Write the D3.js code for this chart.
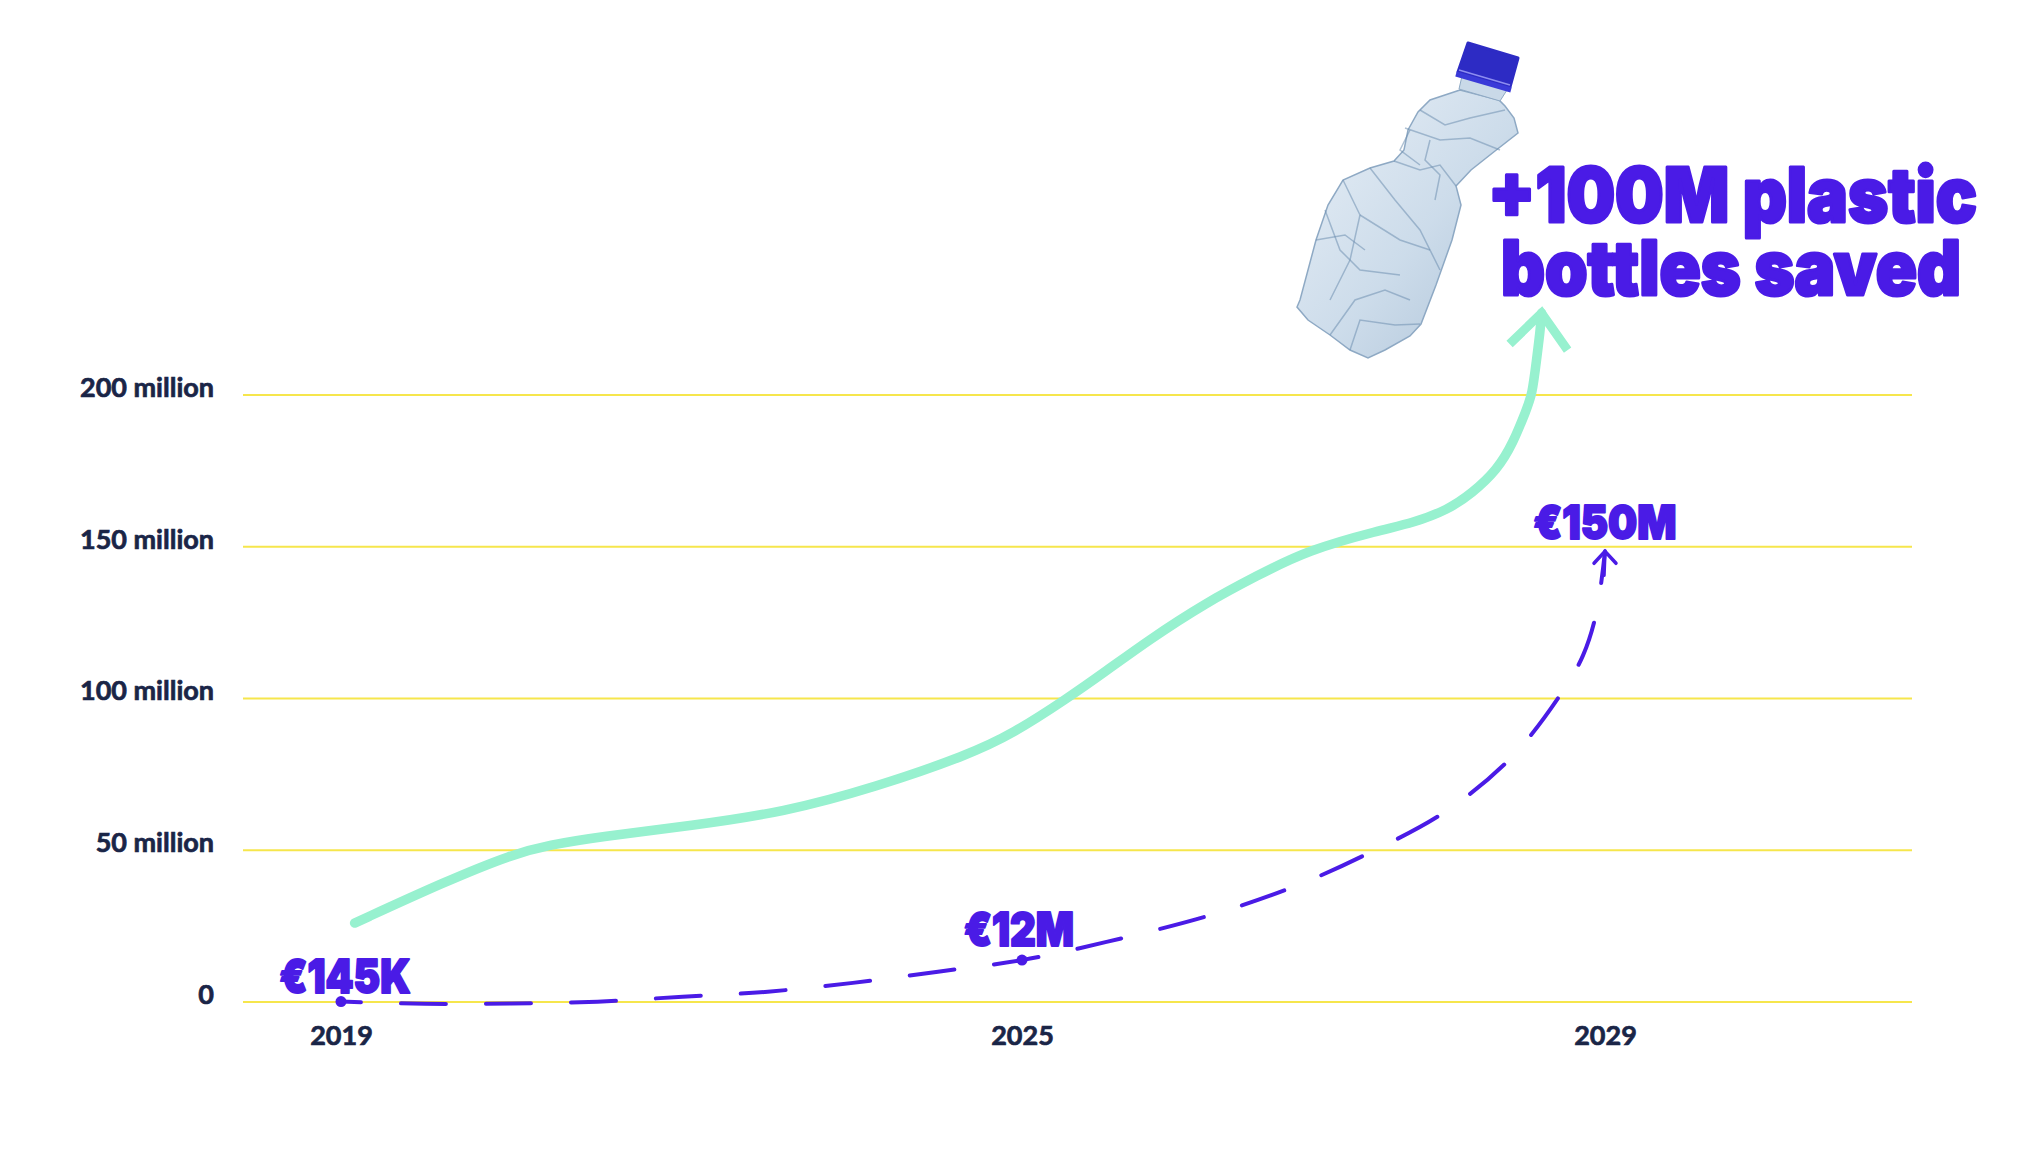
<!DOCTYPE html>
<html>
<head>
<meta charset="utf-8">
<script src="https://cdn.jsdelivr.net/npm/d3@7"></script>
<style>
  html, body { margin: 0; padding: 0; background: #ffffff; }
  svg { display: block; }
  .tick text { font-family: Lato, "Noto Sans", sans-serif; }
</style>
</head>
<body>
<div id="chart"></div>
<script>
// Axis ticks
const yearTicks = [2019, 2025, 2029];
const valueTicks = [0, 50, 100, 150, 200];
const valueTickLabels = ['0', '50 million', '100 million', '150 million', '200 million'];

// Plastic bottles saved (millions)
const bottleYears = [2019.12, 2019.93, 2020.52, 2020.83, 2021.28, 2022.09, 2022.9, 2023.71, 2024.52, 2024.92,
  2025.31, 2025.57, 2025.87, 2026.26, 2026.61, 2026.96, 2027.46, 2027.68, 2027.92, 2028.09,
  2028.26, 2028.37, 2028.46, 2028.5, 2028.53, 2028.555, 2028.565];
const bottleValues = [26.0, 39.9, 48.8, 51.7, 54.5, 58.1, 62.5, 70.8, 81.3, 88.4,
  100.0, 108.8, 119.3, 131.5, 140.4, 148.9, 155.5, 157.8, 162.1, 167.7,
  175.3, 184.2, 195.1, 200.0, 211.5, 221.0, 227.0];

// Funding curve (million €)
const fundYears = [2019, 2019.74, 2020.5, 2021.26, 2022.01, 2022.76, 2023.51, 2024.26, 2025, 2025.58,
  2026.3, 2026.86, 2027.38, 2027.91, 2028.36, 2028.71, 2028.85, 2028.94, 2029];
const fundValues = [0.145, -0.6, -0.5, 0.1, 1.75, 3.4, 6.3, 10.0, 13.8, 19.8,
  28.7, 37.9, 49.1, 62.9, 80.7, 102.4, 114.3, 128.1, 148.5];

// Funding milestones
const milestoneYears = [2019, 2025, 2029];
const milestoneValues = [0.145, 13.8, 148.5];
const milestoneLabels = ['€145K', '€12M', '€150M'];

const headline = ['+100M plastic', 'bottles saved'];

const width = 2042, height = 1153;
const purple = '#4a1be6', mint = '#97f1cf', navy = '#1a2547', gridYellow = '#f6e64c';
const heavyFont = 'Inter, Roboto, Lato, "Noto Sans", sans-serif';

const svg = d3.select('#chart')
  .append('svg')
    .attr('width', width)
    .attr('height', height);

// x axis is not evenly spaced in the original, so use a piecewise scale
const x = d3.scaleLinear()
  .domain(yearTicks)
  .range([341, 1022, 1605]);

const y = d3.scaleLinear()
  .domain([0, 200])
  .range([1002, 395]);

// Gridlines
svg.append('g')
  .selectAll('line')
  .data(valueTicks)
  .enter()
  .append('line')
    .attr('x1', 243)
    .attr('x2', 1912)
    .attr('y1', d => y(d))
    .attr('y2', d => y(d))
    .attr('stroke', gridYellow)
    .attr('stroke-width', 2);

// Y axis labels
const yAxis = svg.append('g')
  .attr('transform', 'translate(243,0)')
  .call(d3.axisLeft(y).tickValues(valueTicks).tickSize(0).tickPadding(29)
    .tickFormat((d, i) => valueTickLabels[i]));
yAxis.select('.domain').remove();
yAxis.selectAll('text')
  .attr('dy', '0.05em')
  .attr('fill', navy)
  .attr('stroke', navy)
  .attr('stroke-width', 0.7)
  .style('font-size', '27px')
  .style('font-weight', 700);

// X axis labels
const xAxis = svg.append('g')
  .attr('transform', 'translate(0,' + y(0) + ')')
  .call(d3.axisBottom(x).tickValues(yearTicks).tickSize(0).tickFormat(d3.format('d')));
xAxis.select('.domain').remove();
xAxis.selectAll('text')
  .attr('y', 43)
  .attr('dy', 0)
  .attr('fill', navy)
  .attr('stroke', navy)
  .attr('stroke-width', 0.7)
  .style('font-size', '27px')
  .style('font-weight', 700);

// Bottle illustration (decoration)
const defs = svg.append('defs');
const grad = defs.append('linearGradient')
  .attr('id', 'bottleGrad')
  .attr('x1', '0').attr('y1', '0').attr('x2', '1').attr('y2', '1');
grad.append('stop').attr('offset', '0%').attr('stop-color', '#e6eef6');
grad.append('stop').attr('offset', '55%').attr('stop-color', '#c7d8e8');
grad.append('stop').attr('offset', '100%').attr('stop-color', '#a4bcd3');

const bottle = svg.append('g').attr('class', 'bottle');
bottle.append('path')
  .attr('d', 'M1460,90 L1430,100 L1418,112 L1408,130 L1404,150 L1394,161 L1370,168 L1343,180 L1328,205 L1316,240 ' +
    'L1300,300 L1297,307 L1308,320 L1330,335 L1350,350 L1368,358 L1385,350 L1410,336 L1421,324 L1436,285 L1452,240 ' +
    'L1461,205 L1456,186 L1471,170 L1495,151 L1518,133 L1514,118 L1505,106 L1499,100 Z')
  .attr('fill', 'url(#bottleGrad)')
  .attr('fill-opacity', 0.9)
  .attr('stroke', '#8ea9c4')
  .attr('stroke-width', 1.5);
// creases
const creases = [
  'M1405,128 L1440,140 L1470,138 L1500,150',
  'M1420,110 L1445,125 L1470,118 L1505,110',
  'M1394,161 L1420,170 L1440,165 L1456,186',
  'M1343,180 L1360,215 L1350,260 L1330,300',
  'M1370,168 L1395,200 L1420,230 L1440,270',
  'M1360,215 L1400,240 L1430,250',
  'M1330,335 L1355,300 L1385,290 L1410,300',
  'M1325,210 L1340,250 L1360,270 L1400,275',
  'M1430,140 L1425,160 L1440,175 L1435,200',
  'M1410,130 L1400,150 L1420,165',
  'M1316,240 L1345,235 L1365,250',
  'M1350,350 L1360,320 L1395,325 L1420,324'
];
bottle.selectAll('path.crease')
  .data(creases)
  .enter()
  .append('path')
    .attr('class', 'crease')
    .attr('d', d => d)
    .attr('fill', 'none')
    .attr('stroke', '#6f8fb0')
    .attr('stroke-opacity', 0.55)
    .attr('stroke-width', 1.5);
// neck
bottle.append('path')
  .attr('d', 'M1462,76 L1507,90 L1500,101 L1459,89 Z')
  .attr('fill', '#c9d9e8')
  .attr('stroke', '#8ea9c4');
// cap
bottle.append('path')
  .attr('d', 'M1468,43 L1518,58 L1510,87 L1458,72 Z')
  .attr('fill', '#2d2bc4')
  .attr('stroke', '#2d2bc4')
  .attr('stroke-width', 3)
  .attr('stroke-linejoin', 'round');
bottle.append('path')
  .attr('d', 'M1456,74 L1511,90')
  .attr('stroke', '#3a3ad8')
  .attr('stroke-width', 5);
bottle.append('path')
  .attr('d', 'M1459,70 L1510,85')
  .attr('stroke', '#8d8df0')
  .attr('stroke-width', 1.5);

// Bottles saved line: smoothed through the read points
const basisLine = d3.line()
  .x(d => x(d[0]))
  .y(d => y(d[1]))
  .curve(d3.curveBasis);

const smoothLine = d3.line()
  .x(d => x(d[0]))
  .y(d => y(d[1]))
  .curve(d3.curveCatmullRom.alpha(0.5));

const bottleData = bottleYears.map((yr, i) => [yr, bottleValues[i]]);

svg.append('path')
  .datum(bottleData)
  .attr('d', basisLine)
  .attr('fill', 'none')
  .attr('stroke', mint)
  .attr('stroke-width', 9.5)
  .attr('stroke-linecap', 'round');

// Arrow head on bottles line
const bTip = bottleData[bottleData.length - 1];
const bx = x(bTip[0]), by = y(bTip[1]);
svg.append('path')
  .attr('d', `M${bx - 32},${by + 31} L${bx},${by} L${bx + 26},${by + 37}`)
  .attr('fill', 'none')
  .attr('stroke', mint)
  .attr('stroke-width', 9)
  .attr('stroke-linejoin', 'miter');

// Funding line (dashed)
const fundData = fundYears.map((yr, i) => [yr, fundValues[i]]);

svg.append('path')
  .datum(fundData)
  .attr('d', smoothLine)
  .attr('fill', 'none')
  .attr('stroke', purple)
  .attr('stroke-width', 4)
  .attr('stroke-dasharray', '45,40')
  .attr('stroke-dashoffset', 25)
  .attr('stroke-linecap', 'round');

// Small arrow at the end of funding line
const fTip = fundData[fundData.length - 1];
const fx = x(fTip[0]), fy = y(fTip[1]);
svg.append('path')
  .attr('d', `M${fx - 11},${fy + 12} L${fx},${fy} L${fx + 11},${fy + 12} M${fx},${fy} L${fx - 1},${fy + 24}`)
  .attr('fill', 'none')
  .attr('stroke', purple)
  .attr('stroke-width', 3.5)
  .attr('stroke-linecap', 'round');

// Milestone dots (first two)
svg.append('g')
  .selectAll('circle')
  .data(milestoneYears.slice(0, 2))
  .enter()
  .append('circle')
    .attr('cx', d => x(d))
    .attr('cy', (d, i) => y(milestoneValues[i]))
    .attr('r', 5.5)
    .attr('fill', purple);

// Milestone labels
const labelWidths = [131, 110, 143];
const labelLift = [9, 14, 12];
const labelShift = [4, -3, 0];
svg.append('g')
  .selectAll('text')
  .data(milestoneLabels)
  .enter()
  .append('text')
    .attr('x', (d, i) => x(milestoneYears[i]) + labelShift[i])
    .attr('y', (d, i) => y(milestoneValues[i]) - labelLift[i])
    .attr('text-anchor', 'middle')
    .attr('textLength', (d, i) => labelWidths[i])
    .attr('lengthAdjust', 'spacingAndGlyphs')
    .attr('fill', purple)
    .attr('stroke', purple)
    .attr('stroke-width', 2)
    .attr('stroke-linejoin', 'round')
    .style('font-family', heavyFont)
    .style('font-weight', 900)
    .style('font-size', '47px')
    .text(d => d);

// Headline, two lines in one text block
const headX = [1488, 1501];
const headDy = [0, 73];
const headW = [489, 460];
svg.append('text')
  .attr('x', headX[0])
  .attr('y', 222)
  .attr('fill', purple)
  .attr('stroke', purple)
  .attr('stroke-width', 3)
  .attr('stroke-linejoin', 'round')
  .style('font-family', heavyFont)
  .style('font-weight', 900)
  .style('font-size', '76px')
  .selectAll('tspan')
  .data(headline)
  .enter()
  .append('tspan')
    .attr('x', (d, i) => headX[i])
    .attr('dy', (d, i) => headDy[i])
    .attr('textLength', (d, i) => headW[i])
    .attr('lengthAdjust', 'spacingAndGlyphs')
    .text(d => d);
</script>
</body>
</html>
